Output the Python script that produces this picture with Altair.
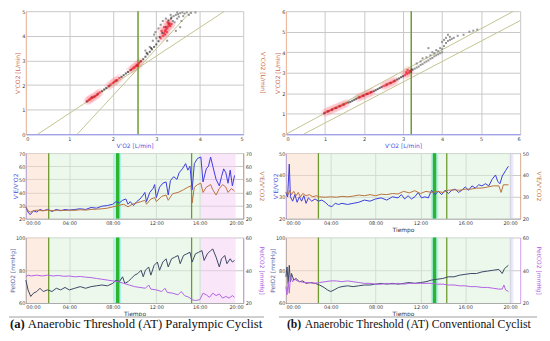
import altair as alt
import pandas as pd

# ================= (a) Paralympic cyclist =================
# V-slope scatter: (V'O2, V'CO2) in L/min
a_red = [(1.42,1.35),(1.45,1.40),(1.48,1.42),(1.50,1.47),(1.53,1.48),(1.56,1.52),(1.60,1.55),(1.63,1.60),(1.66,1.65),(1.70,1.70),
         (1.90,1.95),(1.95,2.02),(2.00,2.08),(2.03,2.12),(2.06,2.17),(2.10,2.20),(2.15,2.28),
         (2.40,2.60),(2.45,2.66),(2.50,2.72),(2.53,2.77),(2.56,2.82),(2.60,2.88),(2.63,2.95),(2.58,2.78),(2.48,2.70),
         (3.10,3.90),(3.15,4.00),(3.18,4.10),(3.20,4.20),(3.22,4.25),(3.25,4.30),(3.27,4.38),(3.30,4.45),(3.18,4.35),
         (3.24,4.15),(3.28,4.50),(3.32,4.40),(3.20,4.05),(3.26,4.55),(3.12,4.20),(3.35,4.48)]
a_dark = [(1.40,1.33),(1.52,1.50),(1.58,1.53),(1.65,1.62),(1.75,1.75),(1.80,1.82),(1.85,1.88),(1.92,1.97),(2.08,2.18),
          (2.20,2.33),(2.25,2.40),(2.30,2.47),(2.35,2.53),(2.42,2.62),(2.55,2.80),(2.65,2.97),(2.70,3.05),(2.75,3.15),
          (2.80,3.25),(2.85,3.35),(2.90,3.45),(2.95,3.55),(3.00,3.65),(3.05,3.78),(2.88,3.50),(2.78,3.30),(3.08,3.95),
          (3.14,4.12),(3.22,4.35),(3.30,4.50),(3.28,4.62),(3.34,4.70)]
a_gray = [(2.85,3.55),(2.92,3.80),(2.75,3.40),(3.00,3.90),(3.05,4.30),(2.95,4.05),(3.35,4.75),(3.40,4.80),(3.45,4.85),
          (3.50,4.88),(3.55,4.92),(3.60,4.95),(3.38,4.60),(3.42,4.55),(3.48,4.70),(3.52,4.78),(3.65,4.90),(3.70,4.95),
          (3.80,4.93),(3.90,4.95),(3.15,4.60),(3.10,4.45),(3.22,4.70),(3.45,4.20),(3.55,4.35),(3.25,3.80),(2.98,4.15),
          (3.58,4.60),(3.62,4.80),(3.33,4.85),(3.48,4.95),(3.75,4.85)]
a_slopes = [("s1",0.27,0.0),("s1",4.57,5.0),("s2",1.18,0.0),("s2",3.80,5.0)]
a_at_vo2 = 2.58

# time series (minutes, value)
a_ve_vo2 = [(0,29),(0.2,25),(0.4,23),(0.7,26),(1.0,25),(1.3,27),(1.6,26),(2.0,27),(2.4,25.5),(2.8,27),(3.2,26),(3.6,27),
            (4.0,26.5),(4.5,27),(5.0,27.5),(5.5,27),(6.0,28.5),(6.5,28),(7.0,29.5),(7.5,30),(8.0,31),(8.3,33),(8.6,32),
            (8.9,34),(9.2,35),(9.4,31),(9.6,33),(9.9,30),(10.2,33),(10.5,35),(10.8,38),(10.95,40),(11.1,33),(11.4,40),
            (11.7,43),(11.85,46),(12.0,36),(12.3,44),(12.6,47),(12.9,48),(13.1,38),(13.3,49),(13.6,52),(13.9,50),
            (14.1,55),(14.4,58),(14.7,62),(14.9,57),(15.1,60),(15.3,42),(15.5,62),(15.8,66),(16.1,67),(16.3,48),
            (16.6,58),(16.8,60),(17.0,67),(17.2,60),(17.5,50),(17.8,45),(18.0,52),(18.2,58),(18.4,55),(18.6,47),
            (18.8,57),(19.0,45),(19.2,53)]
a_ve_vco2 = [(0,29),(0.2,26),(0.4,25),(0.7,26),(1.0,26.5),(1.5,26),(2.0,26.5),(2.5,26),(3.0,26.5),(3.5,26.2),(4.0,26.5),
             (4.5,26.3),(5.0,26.8),(5.5,26.5),(6.0,27),(6.5,27.2),(7.0,27.5),(7.5,28),(8.0,29),(8.5,30),(9.0,31),(9.4,29),
             (9.8,31),(10.2,32),(10.6,33),(10.95,34),(11.1,31),(11.5,35),(11.85,36),(12.0,33),(12.5,37),(12.9,38),
             (13.1,34),(13.5,39),(14.0,40),(14.5,42),(14.9,44),(15.2,45),(15.3,32),(15.5,44),(15.8,46),(16.1,47),
             (16.3,40),(16.6,44),(17.0,46),(17.2,42),(17.5,38),(17.8,43),(18.1,46),(18.4,44),(18.6,40),(18.9,43),(19.2,41)]
a_peto2 = [(0,74),(0.2,68),(0.45,64),(0.7,66),(1.0,67),(1.3,69),(1.6,67),(2.0,68),(2.4,67),(2.8,69),(3.2,68),(3.6,69.5),
           (4.0,68),(4.5,69),(5.0,70),(5.5,69),(6.0,70),(6.5,70.5),(7.0,71),(7.5,70.5),(8.0,72),(8.3,74),(8.6,73),(8.9,76),
           (9.1,72),(9.4,73),(9.7,75),(10.0,77),(10.3,78),(10.6,80),(10.8,76),(11.0,80),(11.3,82),(11.5,77),(11.8,83),
           (12.1,85),(12.3,80),(12.6,85),(12.9,87),(13.1,82),(13.4,87),(13.7,88),(14.0,89),(14.2,84),(14.5,89),(14.8,90),
           (15.1,91),(15.3,85),(15.6,90),(15.9,91),(16.2,92),(16.4,86),(16.7,90),(17.0,92),(17.2,93),(17.5,88),(17.8,82),
           (18.0,87),(18.3,89),(18.5,84),(18.8,87),(19.0,85),(19.2,86)]
a_petco2 = [(0,36),(0.2,37),(0.5,36.5),(1.0,37),(1.5,36.5),(2.0,37),(2.5,36.5),(3.0,36.8),(3.5,36.3),(4.0,36.5),(4.5,36),
            (5.0,36.2),(5.5,35.8),(6.0,35.5),(6.5,35),(7.0,34.5),(7.5,34),(8.0,33.5),(8.5,33),(9.0,32),(9.5,31),(10.0,30),
            (10.5,29.5),(11.0,29),(11.3,31),(11.5,28.5),(12.0,28),(12.5,27),(12.8,29),(13.0,26.5),(13.5,26),(14.0,25),
            (14.3,27),(14.6,24.5),(15.0,23.5),(15.3,22),(15.6,21.5),(16.0,22),(16.3,26),(16.6,25),(16.9,23.5),(17.2,26),
            (17.5,24.5),(17.8,25.5),(18.1,23),(18.4,24),(18.7,23),(19.0,24.5),(19.2,23.5)]
a_phase_start = [0, 2.1, 16.1]
a_phase_end = [2.1, 16.1, 19.3]
a_phase_name = ["aerobic", "transition", "anaerobic"]
a_thresholds = [2.1, 15.25]
a_at_time = 8.45

# ================= (b) Conventional cyclist =================
b_red = [(1.00,1.05),(1.05,1.10),(1.10,1.13),(1.15,1.18),(1.20,1.22),(1.25,1.27),(1.30,1.30),(1.35,1.35),(1.40,1.38),
         (1.45,1.43),(1.50,1.47),(1.55,1.52),(1.85,1.78),(1.90,1.82),(1.95,1.86),(2.00,1.90),(2.05,1.95),(2.10,1.98),
         (2.15,2.02),(2.20,2.06),(2.50,2.35),(2.55,2.38),(2.60,2.44),(2.65,2.48),(2.70,2.52),(2.75,2.56),(2.80,2.62),
         (3.05,2.88),(3.10,2.95),(3.15,3.00),(3.18,3.08),(3.12,3.12),(3.08,3.02)]
b_dark = [(0.98,1.02),(1.08,1.12),(1.18,1.20),(1.28,1.28),(1.38,1.37),(1.48,1.45),(1.60,1.55),(1.65,1.58),(1.70,1.63),
          (1.75,1.68),(1.80,1.73),(1.88,1.80),(1.98,1.88),(2.08,1.97),(2.18,2.05),(2.25,2.10),(2.30,2.15),(2.35,2.20),
          (2.40,2.25),(2.45,2.30),(2.58,2.42),(2.68,2.50),(2.78,2.60),(2.85,2.67),(2.90,2.72),(2.95,2.78),(3.00,2.83),
          (3.20,3.05),(3.22,3.15)]
b_gray = [(3.25,3.15),(3.30,3.20),(3.35,3.25),(3.40,3.30),(3.45,3.38),(3.50,3.42),(3.55,3.50),(3.60,3.55),(3.65,3.60),
          (3.70,3.68),(3.75,3.72),(3.80,3.80),(3.85,3.85),(3.90,3.90),(3.95,3.95),(4.00,4.00),(3.60,3.75),(3.70,3.85),
          (3.80,3.95),(3.90,4.05),(4.00,4.15),(3.75,4.00),(3.85,4.10),(3.95,4.20),(4.05,4.30),(4.10,4.45),(4.15,4.55),
          (4.20,4.60),(4.25,4.65),(4.05,4.60),(4.10,4.70),(4.20,4.75),(4.30,4.70),(4.40,4.80),(3.50,3.70),(3.65,4.20),
          (3.45,3.55),(4.55,4.85),(4.70,5.00),(4.80,5.05),(4.90,5.10),(4.00,4.50),(4.15,4.85),(3.35,3.45)]
b_slopes = [("s1",0.0,0.0),("s1",5.83,6.0),("s2",0.45,0.0),("s2",6.0,5.54)]
b_at_vo2 = 3.21

b_ve_vo2 = [(0,32),(0.15,30),(0.3,45),(0.4,30),(0.6,28),(0.8,31),(1.0,27.5),(1.2,30),(1.4,28),(1.6,30.5),(1.8,27),
            (2.0,29.5),(2.3,28),(2.6,29),(2.9,28),(3.2,28.5),(3.5,27.5),(3.8,26),(4.1,25.5),(4.4,27),(4.7,26.5),(5.0,27),
            (5.5,26.5),(6.0,27),(6.5,27.5),(7.0,28.5),(7.5,28),(8.0,29),(8.5,29.5),(9.0,28.5),(9.5,30),(10.0,29.5),
            (10.3,31),(10.6,29),(10.9,30.5),(11.2,29),(11.5,30),(11.8,32),(12.1,29.5),(12.4,30),(12.7,29.5),(13.0,33),
            (13.3,31),(13.6,32.5),(13.9,31),(14.2,33),(14.5,31.5),(14.8,33),(15.1,33.5),(15.4,32),(15.7,33),(16.0,34.5),
            (16.3,33),(16.6,35),(16.9,34),(17.2,35.5),(17.5,35),(17.8,36),(18.1,35),(18.4,38),(18.7,40),(18.9,37),
            (19.1,36),(19.3,39.5),(19.6,42),(19.85,44)]
b_ve_vco2 = [(0,32),(0.2,31),(0.35,33),(0.5,31),(0.7,32.5),(0.9,30.5),(1.1,32),(1.3,30),(1.5,31.5),(1.8,30.5),(2.1,31),
             (2.4,30),(2.7,30.5),(3.0,30),(3.5,29.8),(4.0,30),(4.5,29.8),(5.0,30.2),(5.5,30),(6.0,30.3),(6.5,30.8),(7.0,30.5),
             (7.5,31),(8.0,30.5),(8.5,31.2),(9.0,31),(9.5,31.5),(10.0,31.3),(10.5,32.5),(11.0,31.8),(11.5,32.8),(12.0,31.5),
             (12.5,32.5),(13.0,32),(13.5,32.5),(14.0,32),(14.5,33),(15.0,33.2),(15.5,33),(16.0,33.5),(16.5,33.5),(17.0,34),
             (17.5,34),(18.0,34.5),(18.5,35),(19.0,35),(19.2,32),(19.4,35.5),(19.85,35.5)]
b_peto2 = [(0,76),(0.1,82),(0.2,72),(0.3,83),(0.4,73),(0.5,78),(0.7,74),(0.9,75),(1.2,73),(1.5,73.5),(1.8,72),(2.2,72.5),
           (2.6,72),(3.0,71),(3.4,69.5),(3.7,68),(4.0,67),(4.3,68),(4.7,69.5),(5.0,70),(5.5,70.5),(6.0,70),(6.5,70.5),
           (7.0,71),(7.5,71),(8.0,71.5),(8.5,72),(9.0,71.5),(9.5,72),(10.0,71.5),(10.5,72),(11.0,72.5),(11.5,72),
           (12.0,72.5),(12.5,73),(13.0,74),(13.5,74.5),(14.0,75),(14.5,76),(15.0,76),(15.5,77),(16.0,77.5),(16.5,78),
           (17.0,78),(17.5,79),(18.0,79.5),(18.5,80),(19.0,80.5),(19.3,78),(19.5,81),(19.85,83)]
b_petco2 = [(0,30),(0.1,25),(0.2,33),(0.3,26),(0.4,36),(0.6,33),(0.8,34.5),(1.0,33.5),(1.3,33),(1.6,32.5),(2.0,32.5),
            (2.5,32),(3.0,32.5),(3.5,33),(4.0,33.5),(4.5,33.5),(5.0,33),(5.5,33.5),(6.0,33),(6.5,32.5),(7.0,32),(7.5,32),
            (8.0,31.5),(8.5,31.5),(9.0,32),(9.5,31.5),(10.0,32),(10.5,31.5),(11.0,32),(11.5,32),(12.0,32),(12.5,32),
            (13.0,32),(13.5,31.5),(14.0,31.5),(14.5,31),(15.0,31),(15.5,30.5),(16.0,30.5),(16.5,30),(17.0,30),(17.5,29.5),
            (18.0,29.5),(18.5,29),(19.0,28.5),(19.3,28.5),(19.45,31),(19.6,28),(19.85,27)]
b_phase_start = [0, 2.9, 19.9]
b_phase_end = [2.9, 19.9, 20.3]
b_phase_name = ["aerobic", "transition", "end"]
b_thresholds = [2.9, 14.35]
b_at_time = 13.26

time_ticks = [0, 4, 8, 12, 16, 20]

# ================= styles =================
BLUE = "#3c3ce0"
BROWN = "#b9733f"
SLATE = "#3b4866"
PURPLE = "#b263e6"
THIN_GREEN = "#6f9a2f"
THICK_GREEN = "#2eb52e"
CYAN = "#a6f0ec"
GRID = "#c9c9c9"
DIAG = "#c4c490"
PHASES = ["aerobic", "transition", "anaerobic", "end"]
PHASE_COLORS = ["#fbd9c4", "#d8f2d8", "#f3cff3", "#dcd6f4"]
LBL = dict(labelFontSize=5, labelColor="#3a3a3a", labelFont="DejaVu Sans",
           titleFont="DejaVu Sans", titleFontSize=6, titleFontWeight="normal")
TIME_EXPR = "(datum.value < 10 ? '0' : '') + datum.value + ':00'"


def vslope(w, h, xmax, ymax, red, dark, gray, slopes, at_x, right_title):
    xs = alt.Scale(domain=[0, xmax], nice=False)
    ys = alt.Scale(domain=[0, ymax], nice=False)
    xax = alt.Axis(values=list(range(xmax + 1)), title="V'O2 [L/min]", titleColor="#5555dd", grid=True,
                   gridColor=GRID, ticks=False, domainColor="#8f8ff2", labelPadding=2, titlePadding=1, **LBL)
    yax = alt.Axis(values=list(range(ymax + 1)), title="V'CO2 [L/min]", titleColor="#cc6a4a", grid=True,
                   gridColor=GRID, ticks=False, domainColor="#f4b89c", labelPadding=1, titlePadding=1, **LBL)
    X = alt.X("x:Q", scale=xs, axis=xax)
    Y = alt.Y("y:Q", scale=ys, axis=yax)
    dr = pd.DataFrame(red, columns=["x", "y"])
    dd = pd.DataFrame(dark, columns=["x", "y"])
    dg = pd.DataFrame(gray, columns=["x", "y"])
    ds = pd.DataFrame(slopes, columns=["k", "x", "y"])
    blobs = alt.Chart(dr).mark_circle(color="#ff8c9c", opacity=0.22, size=70).encode(x=X, y=Y)
    sl = alt.Chart(ds).mark_line(color=DIAG, strokeWidth=1, clip=True).encode(x=X, y=Y, detail="k:N")
    atr = alt.Chart(pd.DataFrame({"x": [at_x]})).mark_rule(color=THIN_GREEN, strokeWidth=1.5).encode(x=X)
    gp = alt.Chart(dg).mark_square(color="#8c8c8c", size=4, opacity=0.9).encode(x=X, y=Y)
    dp = alt.Chart(dd).mark_square(color="#2b2b2b", size=4).encode(x=X, y=Y)
    rp = alt.Chart(dr).mark_square(color="#e8202a", size=5).encode(x=X, y=Y)
    layers = [blobs, sl, atr, gp, dp, rp]
    if right_title:
        rt = alt.Chart(pd.DataFrame({"t": ["V'CO2 [L/min]"]})).mark_text(
            angle=90, fontSize=6, color="#cc6a4a", font="DejaVu Sans").encode(
            x=alt.value(w + 20), y=alt.value(h / 2), text="t:N")
        layers.append(rt)
    return alt.layer(*layers).properties(width=w, height=h)


def tspanel(w, h, xmax, s1, s2, c1, c2, dom1, dom2, tk1, tk2, ttl1, ttl2, tc1, tc2,
            ph_s, ph_e, ph_n, thin, at_t, xtitle):
    xs = alt.Scale(domain=[0, xmax], nice=False, zero=False)
    if xtitle:
        xax = alt.Axis(values=time_ticks, labelExpr=TIME_EXPR, title=xtitle, titleColor="#333333", grid=True,
                       gridColor=GRID, ticks=False, domainColor="#aaaaaa", labelPadding=2, titlePadding=1, **LBL)
    else:
        xax = alt.Axis(values=time_ticks, labelExpr=TIME_EXPR, title=None, grid=True,
                       gridColor=GRID, ticks=False, domainColor="#aaaaaa", labelPadding=2, **LBL)
    X = alt.X("t:Q", scale=xs, axis=xax)
    phases = pd.DataFrame({"t": ph_s, "e": ph_e, "n": ph_n})
    bg = alt.Chart(phases).mark_rect(opacity=0.5).encode(
        x=X, x2="e:Q", color=alt.Color("n:N", scale=alt.Scale(domain=PHASES, range=PHASE_COLORS), legend=None))
    band = alt.Chart(pd.DataFrame({"t": [at_t - 0.32], "e": [at_t + 0.32]})).mark_rect(
        color=CYAN, opacity=0.85).encode(x=X, x2="e:Q")
    thin_r = alt.Chart(pd.DataFrame({"t": thin})).mark_rule(color=THIN_GREEN, strokeWidth=1.3).encode(x=X)
    thick_r = alt.Chart(pd.DataFrame({"t": [at_t]})).mark_rule(color=THICK_GREEN, strokeWidth=3.5).encode(x=X)
    d1 = pd.DataFrame(s1, columns=["t", "v"])
    d2 = pd.DataFrame(s2, columns=["t", "v"])
    l1 = alt.Chart(d1).mark_line(color=c1, strokeWidth=1).encode(
        x=X, y=alt.Y("v:Q", scale=alt.Scale(domain=dom1, nice=False, zero=False),
                     axis=alt.Axis(orient="left", values=tk1, title=ttl1, titleColor=tc1, grid=True, gridColor=GRID,
                                   ticks=False, domainColor=c1, domainOpacity=0.6, labelPadding=1, titlePadding=0, **LBL)))
    l2 = alt.Chart(d2).mark_line(color=c2, strokeWidth=1).encode(
        x=X, y=alt.Y("v:Q", scale=alt.Scale(domain=dom2, nice=False, zero=False),
                     axis=alt.Axis(orient="right", values=tk2, title=ttl2, titleColor=tc2, grid=False,
                                   ticks=False, domainColor=c2, domainOpacity=0.6, labelPadding=2, titlePadding=7, **LBL)))
    return alt.layer(bg, band, thin_r, thick_r, l1, l2).resolve_scale(y="independent").properties(width=w, height=h)


def caption(w, tag, text, fs, tag_x, text_x, r1, r2):
    d = pd.DataFrame({"tag": [tag], "txt": [text]})
    base = alt.Chart(d)
    rule = base.mark_rule(color="#cfcfcf", strokeWidth=2).encode(
        x=alt.value(r1), x2=alt.value(r2), y=alt.value(-5))
    t1 = base.mark_text(font="Liberation Serif", fontSize=fs, fontWeight="bold", align="left",
                        baseline="middle", color="#111111").encode(x=alt.value(tag_x), y=alt.value(2), text="tag:N")
    t2 = base.mark_text(font="Liberation Serif", fontSize=fs, align="left",
                        baseline="middle", color="#111111").encode(x=alt.value(text_x), y=alt.value(2), text="txt:N")
    return alt.layer(rule, t1, t2).properties(width=w, height=1)


WA, WB = 219, 236
H_SC, H_TS = 124, 66

scA = vslope(WA, H_SC, 5, 5, a_red, a_dark, a_gray, a_slopes, a_at_vo2, True)
midA = tspanel(WA, H_TS, 20, a_ve_vo2, a_ve_vco2, BLUE, BROWN, [20, 70], [20, 70],
               [20, 30, 40, 50, 60, 70], [20, 30, 40, 50, 60, 70], "V'E/V'O2", "V'E/V'CO2", "#5050dd", "#c27a50",
               a_phase_start, a_phase_end, a_phase_name, a_thresholds, a_at_time, None)
botA = tspanel(WA, H_TS, 20, a_peto2, a_petco2, SLATE, PURPLE, [60, 100], [20, 60],
               [60, 80, 100], [20, 40, 60], "PetO2 [mmHg]", "PetCO2 [mmHg]", "#5a6aa8", "#b060e0",
               a_phase_start, a_phase_end, a_phase_name, a_thresholds, a_at_time, "Tiempo")
capA = caption(WA, "(a)", "Anaerobic Threshold (AT) Paralympic Cyclist", 12.8, -16, 2, -17, 240)

scB = vslope(WB, H_SC, 6, 6, b_red, b_dark, b_gray, b_slopes, b_at_vo2, False)
midB = tspanel(WB, H_TS, 20.9, b_ve_vo2, b_ve_vco2, BLUE, BROWN, [20, 50], [20, 50],
               [20, 30, 40, 50], [20, 30, 40, 50], "V'E/V'O2", "V'E/V'CO2", "#5050dd", "#c27a50",
               b_phase_start, b_phase_end, b_phase_name, b_thresholds, b_at_time, "Tiempo")
botB = tspanel(WB, H_TS, 20.9, b_peto2, b_petco2, SLATE, PURPLE, [60, 100], [20, 60],
               [60, 80, 100], [20, 40, 60], "PetO2 [mmHg]", "PetCO2 [mmHg]", "#5a6aa8", "#b060e0",
               b_phase_start, b_phase_end, b_phase_name, b_thresholds, b_at_time, "Tiempo")
capB = caption(WB, "(b)", "Anaerobic Threshold (AT) Conventional Cyclist", 11.8, 1, 19, -7, 253)

chart = alt.concat(scA, scB, midA, midB, botA, botB, capA, capB, columns=2,
                   spacing={"row": 19, "column": 43}, bounds="flush", align="each").properties(
    padding={"left": 0, "right": 0, "top": 0, "bottom": 0}, background="white"
).configure_view(stroke=None)

chart.save("out.html", embed_options={"renderer": "svg", "actions": False})
